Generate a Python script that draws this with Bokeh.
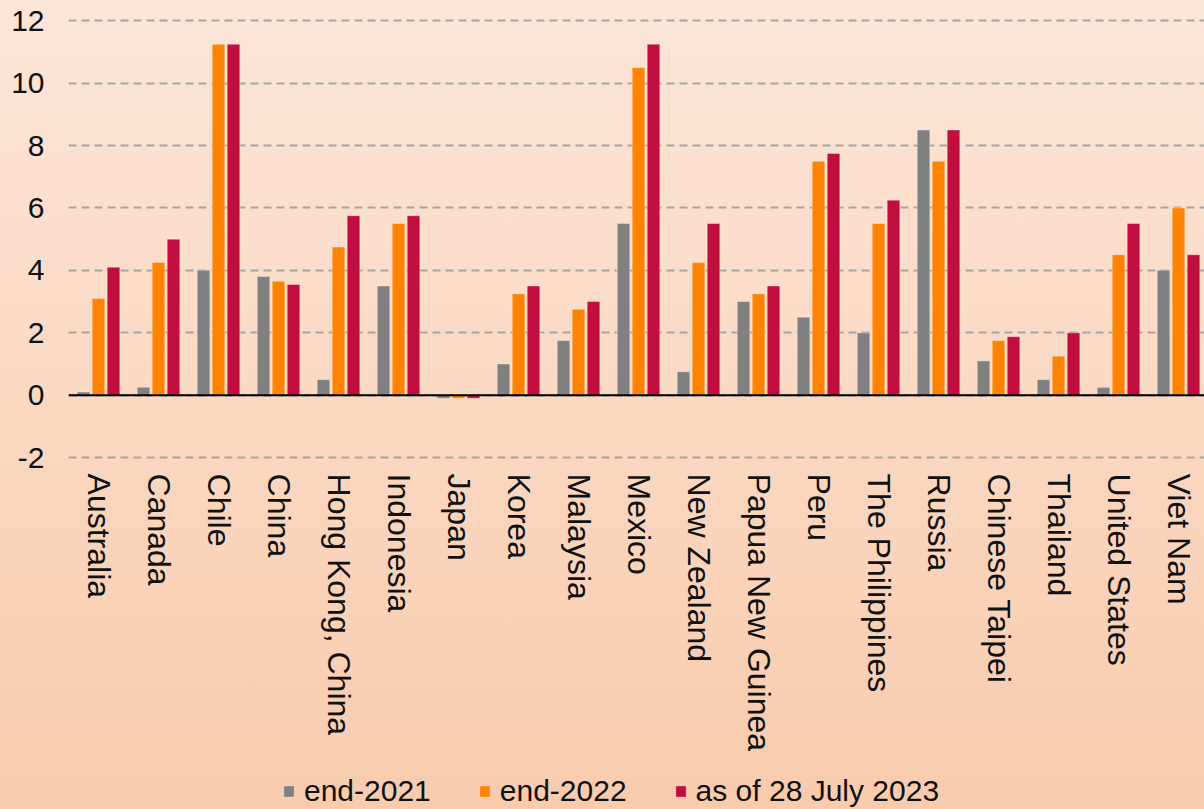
from bokeh.plotting import figure
from bokeh.models import ColumnDataSource, Range1d, FixedTicker, Legend, LegendItem, Span
from bokeh.transform import dodge
from bokeh.embed import file_html
from bokeh.resources import INLINE

economies = ["Australia", "Canada", "Chile", "China", "Hong Kong, China", "Indonesia",
             "Japan", "Korea", "Malaysia", "Mexico", "New Zealand", "Papua New Guinea",
             "Peru", "The Philippines", "Russia", "Chinese Taipei", "Thailand",
             "United States", "Viet Nam"]
end_2021 = [0.1, 0.25, 4.0, 3.8, 0.5, 3.5, -0.1, 1.0, 1.75, 5.5, 0.75, 3.0,
            2.5, 2.0, 8.5, 1.1, 0.5, 0.25, 4.0]
end_2022 = [3.1, 4.25, 11.25, 3.65, 4.75, 5.5, -0.1, 3.25, 2.75, 10.5, 4.25, 3.25,
            7.5, 5.5, 7.5, 1.75, 1.25, 4.5, 6.0]
jul_2023 = [4.1, 5.0, 11.25, 3.55, 5.75, 5.75, -0.1, 3.5, 3.0, 11.25, 5.5, 3.5,
            7.75, 6.25, 8.5, 1.875, 2.0, 5.5, 4.5]
series_names = ["end-2021", "end-2022", "as of 28 July 2023"]
y_ticks = [-2, 0, 2, 4, 6, 8, 10, 12]
y_tick_labels = {-2: "-2", 0: "0", 2: "2", 4: "4", 6: "6", 8: "8", 10: "10", 12: "12"}

colors = ["#808080", "#FF8300", "#C20E3E"]
FONT = "Liberation Sans"

xs = list(range(len(economies)))
src = ColumnDataSource(dict(x=xs, a=end_2021, b=end_2022, c=jul_2023))

p = figure(width=1204, height=809,
           x_range=Range1d(-0.5, 18.433), y_range=Range1d(-13.28, 12.65),
           output_backend="svg", toolbar_location=None,
           min_border_left=68, min_border_right=0, min_border_top=0,
           min_border_bottom=0)
p.styles = {"background": "linear-gradient(to bottom, #FCE6D8 0%, #F8CBAD 100%)"}
p.background_fill_color = None
p.border_fill_color = None
p.outline_line_color = None

renderers = []
for col, off, color in zip(["a", "b", "c"], [-0.25, 0.0, 0.25], colors):
    r = p.vbar(x=dodge("x", off), top=col, bottom=0, width=0.21, source=src,
               fill_color=color, line_color="white", line_alpha=0.35, line_width=1)
    renderers.append(r)

zero = Span(location=0, dimension="width", line_color="black", line_width=2)
p.add_layout(zero)

# grid
p.xgrid.grid_line_color = None
p.ygrid.ticker = FixedTicker(ticks=y_ticks)
p.ygrid.grid_line_color = "#A6A6A6"
p.ygrid.grid_line_width = 2
p.ygrid.grid_line_dash = "8 5"

# y axis
p.yaxis.ticker = FixedTicker(ticks=y_ticks)
p.yaxis.major_label_overrides = y_tick_labels
p.yaxis.axis_line_color = None
p.yaxis.major_tick_line_color = None
p.yaxis.minor_tick_line_color = None
p.yaxis.major_tick_out = 0
p.yaxis.major_tick_in = 0
p.yaxis.major_label_standoff = 24
p.yaxis.major_label_text_font = FONT
p.yaxis.major_label_text_font_size = "30px"
p.yaxis.major_label_text_color = "#111111"

# x axis (drawn at the bottom of the value range, y = -2)
p.xaxis.fixed_location = -2
p.xaxis.ticker = FixedTicker(ticks=xs)
p.xaxis.major_label_overrides = {i: name for i, name in enumerate(economies)}
p.xaxis.major_label_orientation = "vertical"
p.xaxis.axis_line_color = None
p.xaxis.major_tick_line_color = None
p.xaxis.minor_tick_line_color = None
p.xaxis.major_tick_out = 0
p.xaxis.major_tick_in = 0
p.xaxis.major_label_standoff = 16
p.xaxis.major_label_text_font = FONT
p.xaxis.major_label_text_font_size = "32px"
p.xaxis.major_label_text_color = "#111111"

legend = Legend(items=[LegendItem(label=n, renderers=[r]) for n, r in zip(series_names, renderers)],
                orientation="horizontal", location=(214, 1),
                background_fill_alpha=0, border_line_color=None,
                label_text_font=FONT, label_text_font_size="30px",
                label_text_color="#111111",
                glyph_width=13, glyph_height=14, label_standoff=9, spacing=47,
                padding=0, margin=0)
p.add_layout(legend, "center")

open("out.html", "w").write(file_html(p, INLINE))
